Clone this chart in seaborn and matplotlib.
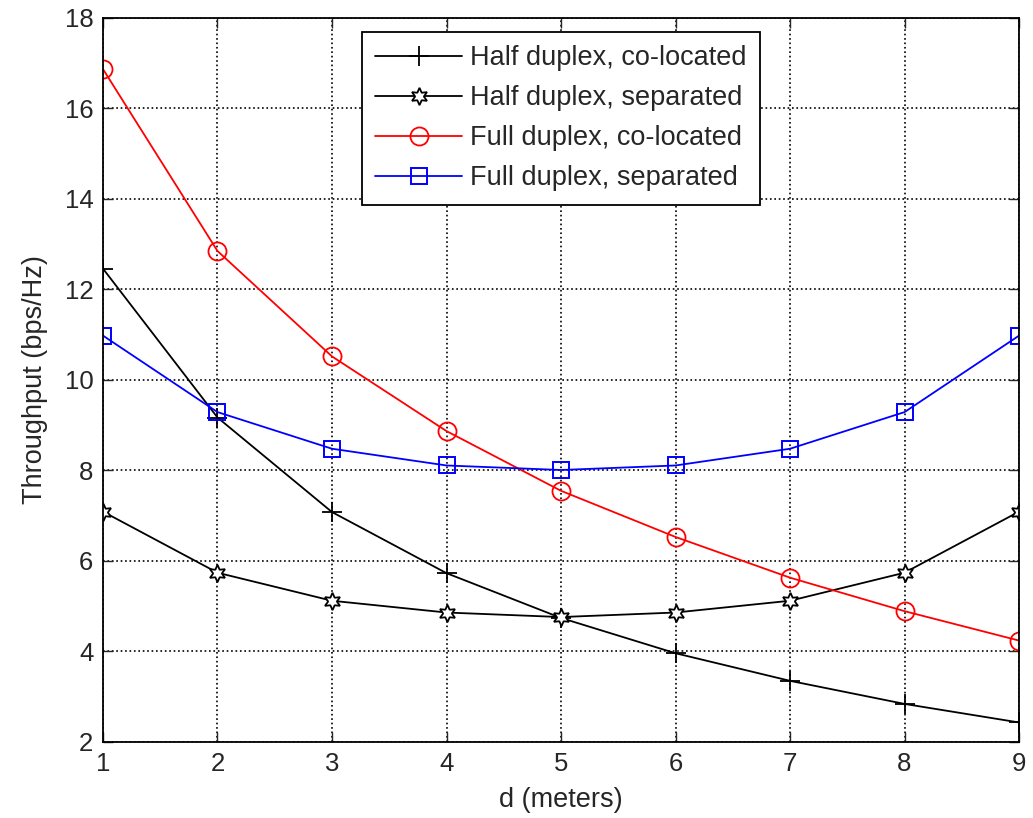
import numpy as np
import pandas as pd
import matplotlib.pyplot as plt
import seaborn as sns

# distance between nodes (meters)
d = [1, 2, 3, 4, 5, 6, 7, 8, 9]

half_colocated = [12.46, 9.17, 7.08, 5.73, 4.74, 3.96, 3.35, 2.84, 2.43]
half_separated = [7.09, 5.74, 5.12, 4.86, 4.76, 4.86, 5.12, 5.74, 7.09]
full_colocated = [16.87, 12.85, 10.52, 8.87, 7.55, 6.53, 5.63, 4.89, 4.24]
full_separated = [10.98, 9.29, 8.48, 8.11, 8.01, 8.11, 8.48, 9.29, 10.98]

labels = ['Half duplex, co-located', 'Half duplex, separated',
          'Full duplex, co-located', 'Full duplex, separated']

sns.set_style('ticks')
plt.rcParams['font.family'] = ['Liberation Sans', 'DejaVu Sans']

fig, ax = plt.subplots(figsize=(10.33, 8.18), dpi=100)
fig.subplots_adjust(left=0.0997, right=0.9865, top=0.978, bottom=0.093)

series = [
    (half_colocated, dict(color='black', marker='+', markersize=15, mew=1.3,
                          markeredgecolor='black')),
    (half_separated, dict(color='black', marker=(6, 1, 0), markersize=12.5, mew=1.3,
                          markerfacecolor='white', markeredgecolor='black')),
    (full_colocated, dict(color='red', marker='o', markersize=13, mew=1.3,
                          markerfacecolor='none', markeredgecolor='red')),
    (full_separated, dict(color='blue', marker='s', markersize=12, mew=1.4,
                          markerfacecolor='none', markeredgecolor='blue')),
]
for (vals, style), lab in zip(series, labels):
    sns.lineplot(x=d, y=vals, ax=ax, label=lab, linewidth=1.3, **style)

ax.set_xlim(1, 9)
ax.set_ylim(2, 18)
ax.set_xticks(range(1, 10))
ax.set_yticks(range(2, 19, 2))
ax.grid(True, color='black', linestyle=':', linewidth=1.2)
ax.tick_params(direction='in', length=7, width=1, labelsize=18.5, top=True, right=True, pad=7)
for sp in ax.spines.values():
    sp.set_visible(True)
    sp.set_linewidth(1.3)
    sp.set_color('black')

ax.set_xlabel('d (meters)', fontsize=19.5, labelpad=8)
ax.set_ylabel('Throughput (bps/Hz)', fontsize=19.5, labelpad=12)

leg = ax.legend(loc='upper center', bbox_to_anchor=(0.5, 1.0), fontsize=19.5,
                frameon=True, fancybox=False, edgecolor='black', framealpha=1,
                borderaxespad=0.5, borderpad=0.5, labelspacing=0.52,
                handlelength=3.2, handletextpad=0.3)
leg.get_frame().set_linewidth(1.3)

plt.savefig('out.png')
